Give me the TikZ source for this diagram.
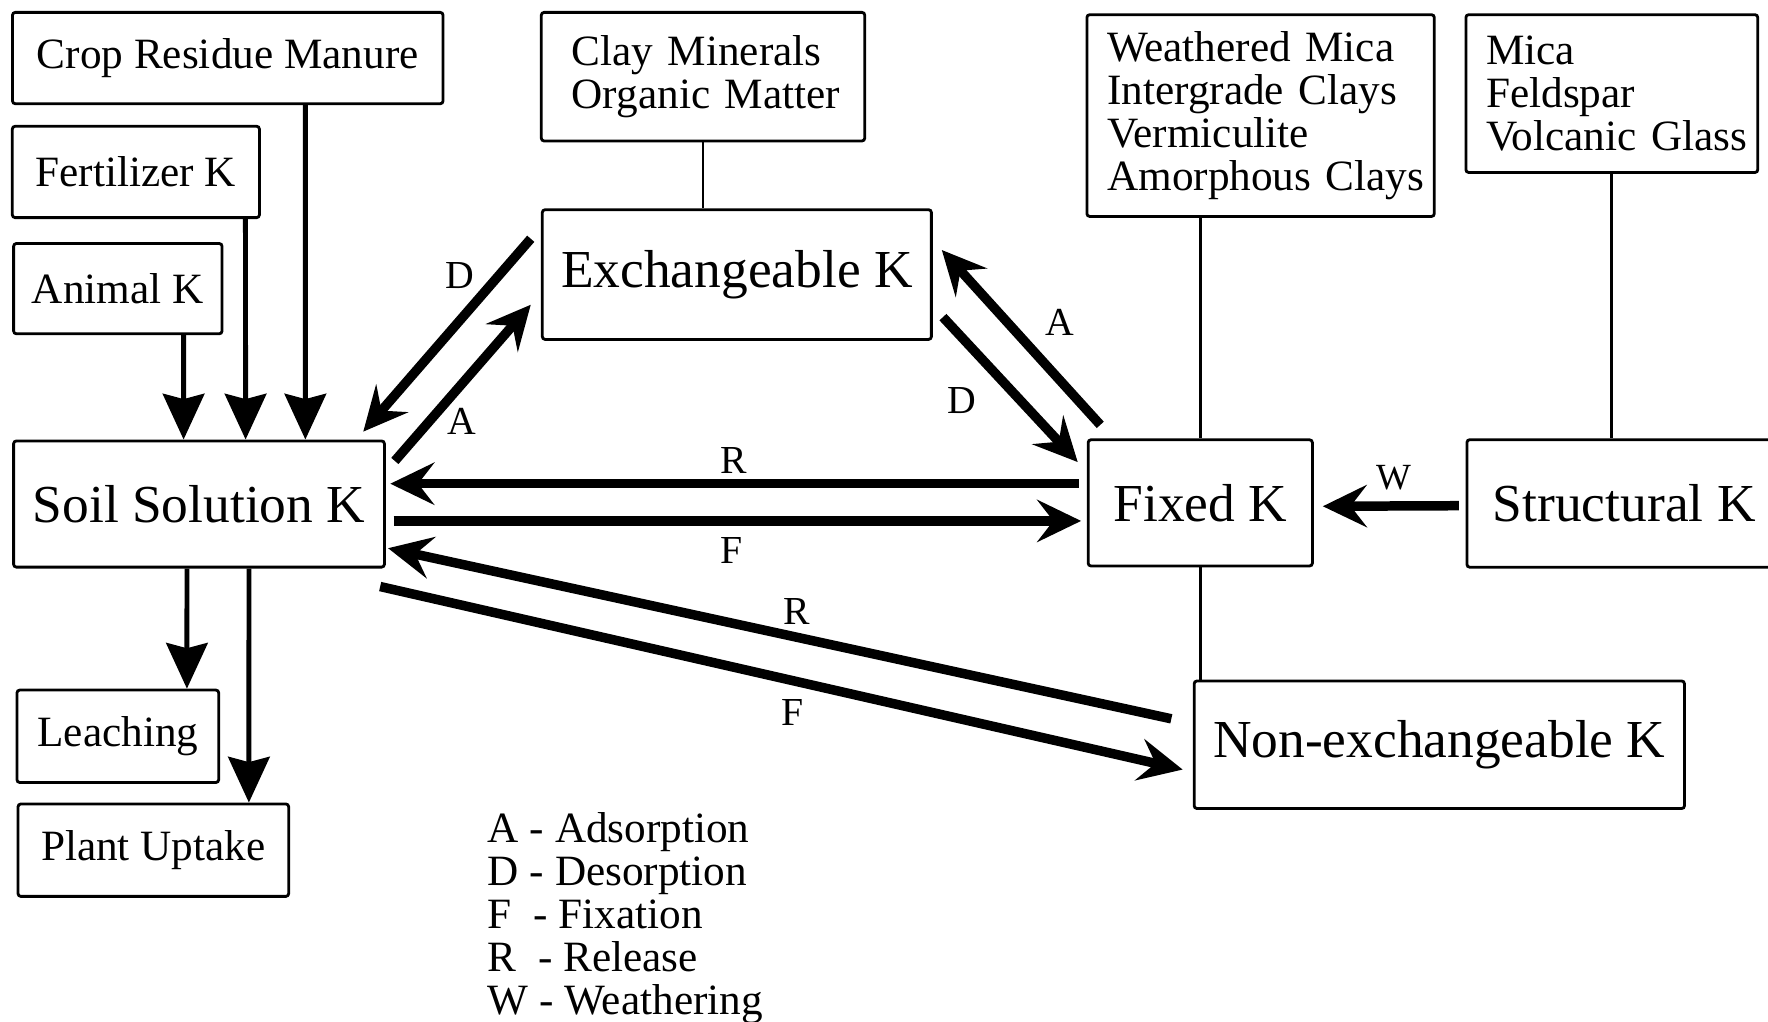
\documentclass[tikz,border=0pt]{standalone}
\usepackage{fontspec}
\setmainfont{Liberation Serif}
\usetikzlibrary{arrows.meta,calc}
\begin{document}
\begin{tikzpicture}[x=0.3208pt,y=-0.3208pt,
  box/.style={draw, line width=0.8pt, rounded corners=0.8pt, inner sep=0pt,
    font=\fontsize{12.3pt}{12.2pt}\selectfont},
  bigbox/.style={box, font=\fontsize{15.2pt}{18pt}\selectfont},
  listbox/.style={box, align=left},
  lbl/.style={inner sep=0pt, font=\fontsize{11.3pt}{13pt}\selectfont},
  thinline/.style={line width=0.8pt},
  flux/.style={line width=2.7pt, -{Stealth[length=12.5pt,width=12pt,inset=4.6pt]}},
  drop/.style={line width=1.4pt, -{Stealth[length=13pt,width=11.8pt,inset=1.5pt]}},
]
\fill[white] (0,0) rectangle (1568,906);
\useasboundingbox (0,0) rectangle (1568,906);

% input boxes
\node[box, minimum width=122.5pt, minimum height=26pt] (crop) at (202,51.5) {Crop Residue Manure};
\node[box, minimum width=70.3pt, minimum height=26pt] (fert) at (120.5,152.5) {Fertilizer K};
\node[box, minimum width=59.3pt, minimum height=25.7pt] (animal) at (104.5,256) {Animal K};

% main pools
\node[bigbox, minimum width=105.5pt, minimum height=35.9pt] (soil) at (176.5,447) {Soil Solution K};
\node[bigbox, minimum width=110.7pt, minimum height=36.9pt] (exch) at (653.5,243.5) {Exchangeable K};
\node[bigbox, minimum width=63.8pt, minimum height=35.9pt] (fixed) at (1064.5,446) {Fixed K};
\node[bigbox, minimum width=89.5pt, minimum height=36.3pt] (struct) at (1440.5,446.5) {Structural K};
\node[bigbox, minimum width=139.5pt, minimum height=36.3pt] (nonex) at (1276.5,660.5) {Non-exchangeable K};

% outputs
\node[box, minimum width=57.4pt, minimum height=26.3pt] (leach) at (104.5,653) {Leaching};
\node[box, minimum width=77pt, minimum height=26.3pt] (plant) at (136,754) {Plant Uptake};

% mineral boxes
\node[listbox, text width=74.7pt, inner xsep=8.66pt, minimum height=36.6pt] (clay) at (623.5,68)
  {\mbox{Clay Minerals}\\\mbox{Organic Matter}};
\node[listbox, text width=87.3pt, inner xsep=5.77pt, minimum height=57.4pt] (weath) at (1118,102.5)
  {\mbox{Weathered Mica}\\\mbox{Intergrade Clays}\\\mbox{Vermiculite}\\\mbox{Amorphous Clays}};
\node[listbox, text width=71.5pt, inner xsep=5.77pt, minimum height=44.9pt] (mica) at (1429.5,83)
  {\mbox{Mica}\\\mbox{Feldspar}\\\mbox{Volcanic Glass}};

% thin connectors
\draw[thinline] (clay.south) -- (clay.south |- exch.north);
\draw[thinline] (fixed.north |- weath.south) -- (fixed.north);
\draw[thinline] (fixed.south) -- (fixed.south |- nonex.north);
\draw[thinline] (mica.south) -- (mica.south |- struct.north);
\draw[thinline] ($(struct.south west)+(142,0)$) -- ($(struct.south west)+(142,0)$ |- nonex.north);

% inputs to soil solution
\draw[drop] ($(animal.south west)+(152,0)$) -- ($(soil.north west)+(152,0)$);
\draw[drop] ($(fert.south west)+(208,0)$) -- ($(soil.north west)+(207,0)$);
\draw[drop] ($(crop.south west)+(261,0)$) -- ($(soil.north west)+(260,0)$);
% losses
\draw[drop] ($(soil.south west)+(155,0)$) -- ($(leach.north west)+(152,0)$);
\draw[drop] ($(soil.south west)+(210,0)$) -- ($(plant.north west)+(206,0)$);

% exchangeable <-> soil solution
\draw[flux] ($(exch.north west)+(-9,27)$) -- ($(soil.north east)+(-20,-7)$);
\draw[flux] ($(soil.north east)+(8,19)$) -- ($(exch.south west)+(-9,-32)$);
\node[lbl] (lD1) at (408,244) {D};
\node[lbl] (lA1) at (410,374) {A};

% exchangeable <-> fixed
\draw[flux] ($(fixed.north west)+(12,-12)$) -- ($(exch.north east)+(8,37)$);
\draw[flux] ($(exch.south east)+(9,-21)$) -- ($(fixed.north west)+(-8,21)$);
\node[lbl] (lA2) at (940,286) {A};
\node[lbl] (lD2) at (853,355) {D};

% fixed <-> soil solution
\draw[flux] ($(fixed.west)+(-7,-17)$) -- ($(soil.east)+(4,-18)$);
\draw[flux] ($(soil.east)+(7,15)$) -- ($(fixed.west)+(-5,16)$);
\node[lbl] (lR1) at (651,408) {R};
\node[lbl] (lF1) at (649,488) {F};

% structural -> fixed
\draw[flux] ($(struct.west)+(-6,2)$) -- ($(fixed.east)+(8,3)$);
\node[lbl, font=\fontsize{10.5pt}{12pt}\selectfont] (lW) at (1236,424) {W};

% non-exchangeable <-> soil solution
\draw[flux] ($(nonex.west)+(-19,-23)$) -- ($(soil.south east)+(2,-18)$);
\draw[flux] ($(soil.south east)+(-5,16)$) -- ($(nonex.west)+(-9,22)$);
\node[lbl] (lR2) at (707,542) {R};
\node[lbl] (lF2) at (703,632) {F};

% legend
\node[anchor=north west, inner sep=0pt, align=left, font=\fontsize{12.3pt}{12.2pt}\selectfont] (legend) at (432,720)
  {A - Adsorption\\D - Desorption\\F\ \ - Fixation\\R\ \ - Release\\W - Weathering};
\end{tikzpicture}
\end{document}
